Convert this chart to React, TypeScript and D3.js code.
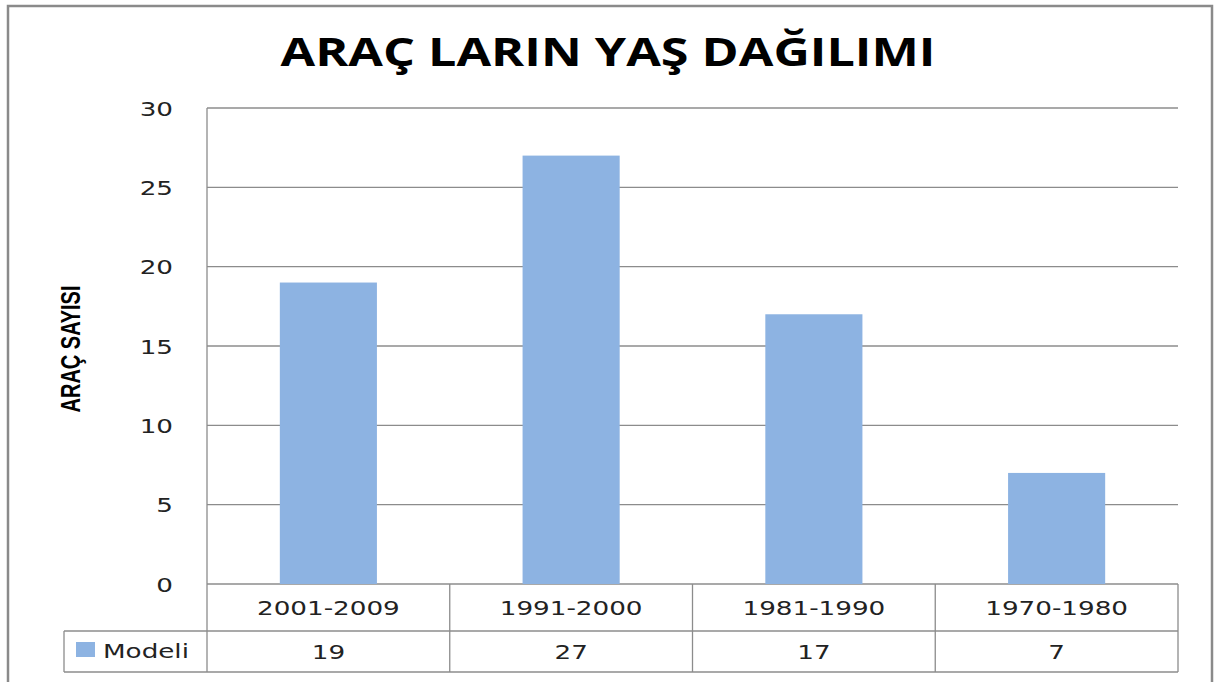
import React from 'react';
import { scaleBand, scaleLinear, range } from 'd3';

const categories = ['2001-2009', '1991-2000', '1981-1990', '1970-1980'];
const values = [19, 27, 17, 7];
const seriesName = 'Modeli';
const yTicks = [0, 5, 10, 15, 20, 25, 30];

const W = 1220;
const H = 682;
const plot = { left: 207, right: 1178, top: 108, bottom: 584 };
const rowCat = 631; // bottom of category row
const rowVal = 672; // bottom of value row
const legendLeft = 64;
const barColor = '#8DB3E2';
const lineColor = '#8c8c8c';
const font = '"DejaVu Sans", Verdana, sans-serif';
const sx = 1.38; // horizontal stretch of the labels

const x = scaleBand<string>()
  .domain(categories)
  .range([plot.left, plot.right])
  .paddingInner(0.6)
  .paddingOuter(0.3);

const y = scaleLinear().domain([0, 30]).range([plot.bottom, plot.top]);

// step covers the whole category column in the data table
const colEdges = range(categories.length + 1).map(
  (i) => plot.left + i * ((plot.right - plot.left) / categories.length)
);

const Label = ({ x0, y0, anchor = 'middle', children }: any) => (
  <text
    transform={`translate(${x0},${y0}) scale(${sx},1)`}
    textAnchor={anchor}
    dominantBaseline="central"
    fontFamily={font}
    fontSize={19}
    fill="#222"
  >
    {children}
  </text>
);

const App = () => {
  return (
    <svg
      width={W}
      height={H}
      style={{ position: 'absolute', left: 0, top: 0, background: '#fff' }}
    >
      <rect x={0} y={0} width={W} height={H} fill="#fff" />
      {/* chart frame */}
      <rect
        x={8}
        y={6}
        width={1204}
        height={700}
        fill="#fff"
        stroke="#8a8a8a"
        strokeWidth={2.5}
      />

      <text
        x={608}
        y={66}
        textAnchor="middle"
        fontFamily='"Open Sans", "Liberation Sans", sans-serif'
        fontWeight={700}
        fontSize={40}
        textLength={655}
        lengthAdjust="spacingAndGlyphs"
        fill="#000"
      >
        ARAÇ LARIN YAŞ DAĞILIMI
      </text>

      <text
        transform="translate(80,349) rotate(-90)"
        textAnchor="middle"
        fontFamily='"Liberation Sans Narrow", "Liberation Sans", sans-serif'
        fontWeight={700}
        fontSize={27}
        textLength={127}
        lengthAdjust="spacingAndGlyphs"
        fill="#000"
      >
        ARAÇ SAYISI
      </text>

      {/* gridlines */}
      {yTicks.map((t) => (
        <line
          key={t}
          x1={plot.left}
          x2={plot.right}
          y1={y(t)}
          y2={y(t)}
          stroke={lineColor}
          strokeWidth={1.3}
        />
      ))}

      {yTicks.map((t) => (
        <Label key={t} x0={173} y0={y(t) + 1} anchor="end">
          {t}
        </Label>
      ))}

      {/* bars */}
      {categories.map((c, i) => (
        <rect
          key={c}
          x={x(c)}
          y={y(values[i])}
          width={x.bandwidth()}
          height={y(0) - y(values[i])}
          fill={barColor}
        />
      ))}

      {/* data table */}
      <line x1={plot.left} x2={plot.left} y1={plot.top} y2={rowVal} stroke={lineColor} strokeWidth={1.3} />
      <line x1={legendLeft} x2={plot.right} y1={rowCat} y2={rowCat} stroke={lineColor} strokeWidth={1.3} />
      <line x1={legendLeft} x2={plot.right} y1={rowVal} y2={rowVal} stroke={lineColor} strokeWidth={1.3} />
      <line x1={legendLeft} x2={legendLeft} y1={rowCat} y2={rowVal} stroke={lineColor} strokeWidth={1.3} />
      {colEdges.slice(1).map((e, i) => (
        <line key={i} x1={e} x2={e} y1={plot.bottom} y2={rowVal} stroke={lineColor} strokeWidth={1.3} />
      ))}

      {categories.map((c, i) => {
        const cx = (colEdges[i] + colEdges[i + 1]) / 2;
        return (
          <g key={c}>
            <Label x0={cx} y0={(plot.bottom + rowCat) / 2 + 1}>
              {c}
            </Label>
            <Label x0={cx} y0={(rowCat + rowVal) / 2 + 1}>
              {values[i]}
            </Label>
          </g>
        );
      })}

      <rect x={76} y={642} width={19} height={15} fill={barColor} />
      <Label x0={103} y0={651} anchor="start">
        {seriesName}
      </Label>
    </svg>
  );
};

export default App;
